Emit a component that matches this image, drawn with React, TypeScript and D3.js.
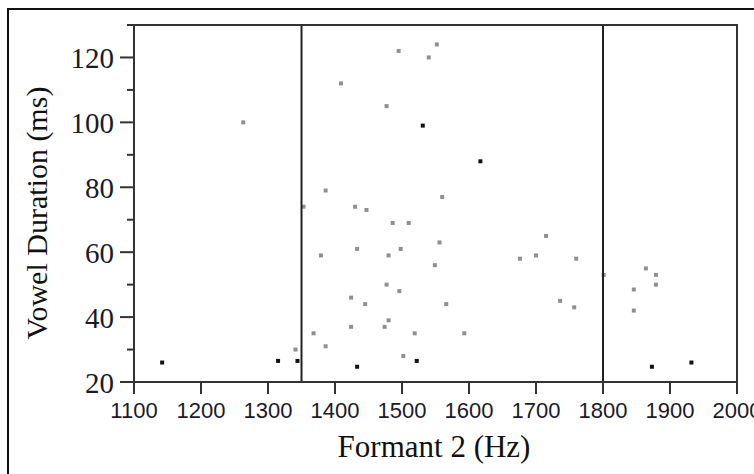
import React from "react";
import * as d3 from "d3";

const grayF2 = [1263, 1495, 1552, 1540, 1409, 1477, 1386, 1353, 1430, 1447, 1560, 1486, 1510, 1556, 1433, 1498, 1379, 1480, 1549, 1477, 1496, 1424, 1445, 1480, 1424, 1474, 1368, 1519, 1386, 1341, 1502, 1566, 1593, 1676, 1700, 1715, 1760, 1736, 1757, 1801, 1864, 1879, 1846, 1879, 1846];
const grayDur = [100, 122, 124, 120, 112, 105, 79, 74, 74, 73, 77, 69, 69, 63, 61, 61, 59, 59, 56, 50, 48, 46, 44, 39, 37, 37, 35, 35, 31, 30, 28, 44, 35, 58, 59, 65, 58, 45, 43, 53, 55, 53, 48.5, 50, 42];
const blackF2 = [1531, 1617, 1315, 1344, 1142, 1433, 1522, 1873, 1932];
const blackDur = [99, 88, 26.5, 26.5, 26, 24.7, 26.5, 24.7, 26];
const xTicks = [1100, 1200, 1300, 1400, 1500, 1600, 1700, 1800, 1900, 2000];
const yMajor = [20, 40, 60, 80, 100, 120];
const yMinor = [30, 50, 70, 90, 110, 130];
const refLines = [1350, 1800];
const xTitle = "Formant 2 (Hz)";
const yTitle = "Vowel Duration (ms)";

export default function App() {
  const x = d3.scaleLinear().domain([1100, 2000]).range([134, 737]);
  const y = d3.scaleLinear().domain([20, 130]).range([382, 25]);
  const serif = "'Liberation Serif', 'Times New Roman', serif";
  const sans = "'Liberation Sans', Arial, sans-serif";
  const axisColor = "#333";
  return (
    <svg
      width={754}
      height={474}
      style={{ position: "absolute", left: 0, top: 0, background: "#fff" }}
    >
      <rect x={0} y={0} width={754} height={474} fill="#fff" />
      <rect x={8} y={9} width={800} height={600} fill="none" stroke="#111" strokeWidth={2} />
      {/* points */}
      {grayF2.map((f, i) => (
        <rect key={"g" + i} x={x(f) - 2} y={y(grayDur[i]) - 2} width={4} height={4} fill="#8f8f8f" />
      ))}
      {blackF2.map((f, i) => (
        <rect key={"b" + i} x={x(f) - 2} y={y(blackDur[i]) - 2} width={4} height={4} fill="#111" />
      ))}
      {/* reference lines */}
      {refLines.map((v) => (
        <line key={"r" + v} x1={x(v)} x2={x(v)} y1={y(130)} y2={y(20)} stroke="#222" strokeWidth={2} />
      ))}
      {/* box */}
      <rect x={x(1100)} y={y(130)} width={x(2000) - x(1100)} height={y(20) - y(130)} fill="none" stroke={axisColor} strokeWidth={2} />
      {/* y ticks */}
      {yMajor.map((v) => (
        <g key={"ym" + v}>
          <line x1={x(1100) - 14} x2={x(1100)} y1={y(v)} y2={y(v)} stroke={axisColor} strokeWidth={2} />
          <text x={x(1100) - 20} y={y(v) + 10.5} textAnchor="end" fontFamily={serif} fontSize={29} fill="#1a1a2a">
            {v}
          </text>
        </g>
      ))}
      {yMinor.map((v) => (
        <line key={"yn" + v} x1={x(1100) - 7} x2={x(1100)} y1={y(v)} y2={y(v)} stroke={axisColor} strokeWidth={2} />
      ))}
      {/* x ticks */}
      {xTicks.map((v) => (
        <g key={"x" + v}>
          <line x1={x(v)} x2={x(v)} y1={y(20)} y2={y(20) + 12} stroke={axisColor} strokeWidth={2} />
          <text x={x(v)} y={418} textAnchor="middle" fontFamily={sans} fontSize={22} fill="#1a1a2a">
            {v}
          </text>
        </g>
      ))}
      <text x={434} y={457} textAnchor="middle" fontFamily={serif} fontSize={31} fill="#111">
        {xTitle}
      </text>
      <text
        transform={`translate(47,213) rotate(-90)`}
        textAnchor="middle"
        fontFamily={serif}
        fontSize={30}
        fill="#111"
      >
        {yTitle}
      </text>
    </svg>
  );
}
